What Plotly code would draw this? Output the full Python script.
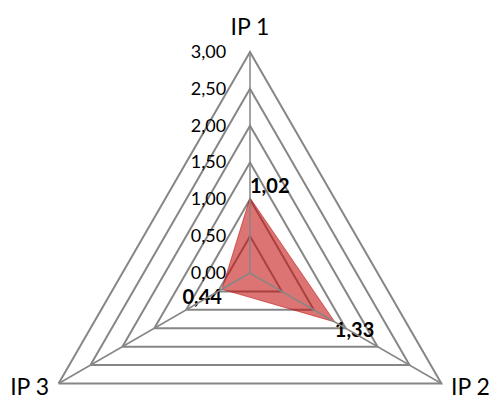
import plotly.graph_objects as go

categories = ["IP 1", "IP 2", "IP 3"]
values = [1.02, 1.33, 0.44]
value_labels = ["1,02", "1,33", "0,44"]
label_positions = ["top right", "bottom right", "bottom left"]
category_label_positions = ["top center", "middle right", "middle left"]
radial_ticks = [0, 0.5, 1.0, 1.5, 2.0, 2.5, 3.0]

GRID = "rgb(134,134,134)"
FONT = "Lato, 'Open Sans', sans-serif"

W, H = 490, 512
CX, CY, R = 250, 273, 221          # centre and radius of the 3,00 frame, px
R_MAX = radial_ticks[-1] * 1.05    # radial room for the category names
R_OUT = R * R_MAX / radial_ticks[-1]

fig = go.Figure()

# filled series polygon (closed by repeating the first point)
fig.add_trace(go.Scatterpolar(
    r=values + values[:1],
    theta=categories + categories[:1],
    mode="lines+text",
    fill="toself",
    fillcolor="rgba(195,15,15,0.58)",
    line=dict(color="rgba(195,15,15,0.58)", width=1),
    text=value_labels + [""],
    textposition=label_positions + ["top right"],
    textfont=dict(family=FONT, size=20, color="black", weight="bold"),
    cliponaxis=False, hoverinfo="skip", showlegend=False,
))

# category spokes drawn over the fill
spoke_r, spoke_t = [], []
for c in categories:
    spoke_r += [0, radial_ticks[-1], None]
    spoke_t += [c, c, None]
fig.add_trace(go.Scatterpolar(
    r=spoke_r, theta=spoke_t, mode="lines",
    line=dict(color=GRID, width=1.5),
    cliponaxis=False, hoverinfo="skip", showlegend=False,
))

# category names just outside the outer corners
fig.add_trace(go.Scatterpolar(
    r=[R_MAX] * len(categories),
    theta=categories,
    mode="text",
    text=categories,
    textposition=category_label_positions,
    textfont=dict(family=FONT, size=23, color="black"),
    cliponaxis=False, hoverinfo="skip", showlegend=False,
))

fig.update_layout(
    width=W, height=H,
    margin=dict(l=0, r=0, t=0, b=0),
    paper_bgcolor="white",
    separators=", ",
    font=dict(family=FONT, color="black"),
    polar=dict(
        domain=dict(x=[(CX - R_OUT) / W, (CX + R_OUT) / W],
                    y=[1 - (CY + R_OUT) / H, 1 - (CY - R_OUT) / H]),
        gridshape="linear",
        bgcolor="white",
        angularaxis=dict(
            categoryorder="array",
            categoryarray=categories,
            direction="clockwise",
            rotation=90,
            showline=False,
            showgrid=False,
            ticks="",
            showticklabels=False,
        ),
        radialaxis=dict(
            range=[0, R_MAX],
            tickvals=radial_ticks,
            tickformat=".2f",
            angle=90,
            tickangle=90,
            side="counterclockwise",
            showline=False,
            showgrid=True,
            gridcolor=GRID,
            gridwidth=1.5,
            ticks="outside",
            ticklen=17,
            tickcolor="rgba(0,0,0,0)",
            tickfont=dict(size=18, color="black"),
        ),
    ),
)

fig.write_html("out.html")
